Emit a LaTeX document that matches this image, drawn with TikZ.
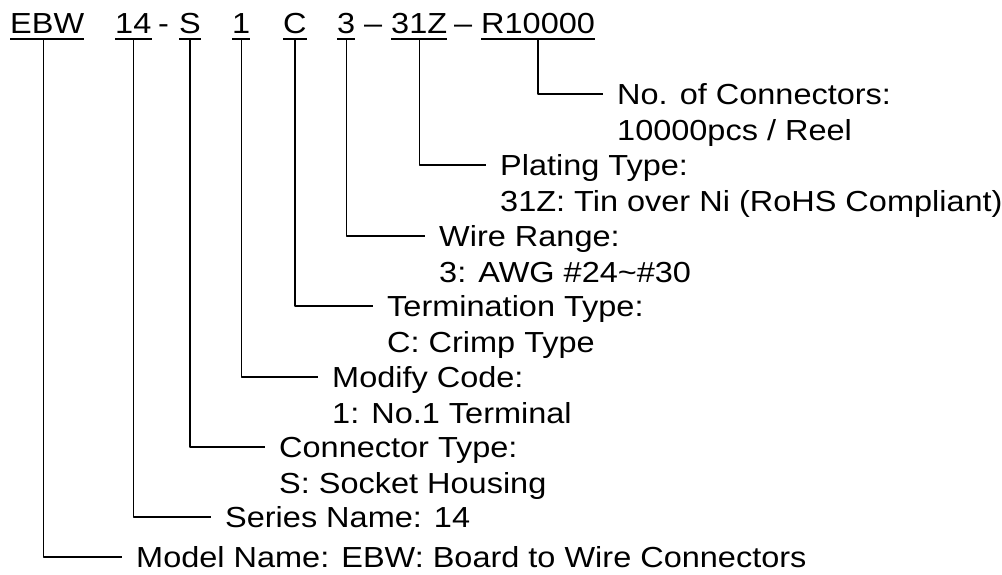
\documentclass[tikz,border=0pt]{standalone}
\usepackage{fontspec}
\setmainfont{Liberation Sans}[FakeStretch=1.12]
\usetikzlibrary{positioning}
\begin{document}
\begin{tikzpicture}[x=1pt,y=-1pt,line join=round,
	font=\fontsize{29}{35}\selectfont,
	part/.style={inner sep=0pt,text height=21pt,text depth=6pt,anchor=base west},
	uline/.style={line width=1.8pt},
	lead/.style={line width=1.2pt},
	lbl/.style={inner xsep=14pt,inner ysep=0pt,text height=21pt,text depth=0pt,anchor=west},
	lbltwo/.style={lbl,below=15pt of #1.south west,anchor=north west}]
	\useasboundingbox (0,0) rectangle (1002,574);
	% ma san pham
	\node[part] (ebw) at (10,33) {EBW};
	\node[part] (ser) at (115,33) {14};
	\node[part] (hy) at (158,33) {-};
	\node[part] (sock) at (179,33) {S};
	\node[part] (one) at (232,33) {1};
	\node[part] (crimp) at (283,33) {C};
	\node[part] (awg) at (337,33) {3};
	\node[part] (dsa) at (364,33) {–};
	\node[part] (tin) at (391,33) {31Z};
	\node[part] (dsb) at (454,33) {–};
	\node[part] (reel) at (481,33) {R10000};
	% gach chan
	\foreach \p in {ebw,ser,sock,one,crimp,awg,tin,reel}
		\draw[uline] (\p.south west) -- (\p.south east);
	% chu thich
	\node[lbl] (lreel) at (603,94) {No. of Connectors:};
	\node[lbltwo=lreel] (lreelb) {10000pcs / Reel};
	\node[lbl] (ltin) at (486,165) {Plating Type:};
	\node[lbltwo=ltin] (ltinb) {31Z: Tin over Ni (RoHS Compliant)};
	\node[lbl] (lawg) at (425,236) {Wire Range:};
	\node[lbltwo=lawg] (lawgb) {3: AWG \#24\char`~\#30};
	\node[lbl] (lcrimp) at (373,306) {Termination Type:};
	\node[lbltwo=lcrimp] (lcrimpb) {C: Crimp Type};
	\node[lbl] (lone) at (318,377) {Modify Code:};
	\node[lbltwo=lone] (loneb) {1: No.1 Terminal};
	\node[lbl] (lsock) at (265,447) {Connector Type:};
	\node[lbltwo=lsock] (lsockb) {S: Socket Housing};
	\node[lbl] (lser) at (211,517) {Series Name: 14};
	\node[lbl] (lebw) at (122,557) {Model Name: EBW: Board to Wire Connectors};
	% duong dan
	\draw[lead] (reel.south) |- (lreel.west);
	\draw[lead] (tin.south) |- (ltin.west);
	\draw[lead] (awg.south) |- (lawg.west);
	\draw[lead] (crimp.south) |- (lcrimp.west);
	\draw[lead] (one.south) |- (lone.west);
	\draw[lead] (sock.south) |- (lsock.west);
	\draw[lead] (ser.south) |- (lser.west);
	\draw[lead] ([xshift=-4pt]ebw.south) |- (lebw.west);
\end{tikzpicture}
\end{document}
